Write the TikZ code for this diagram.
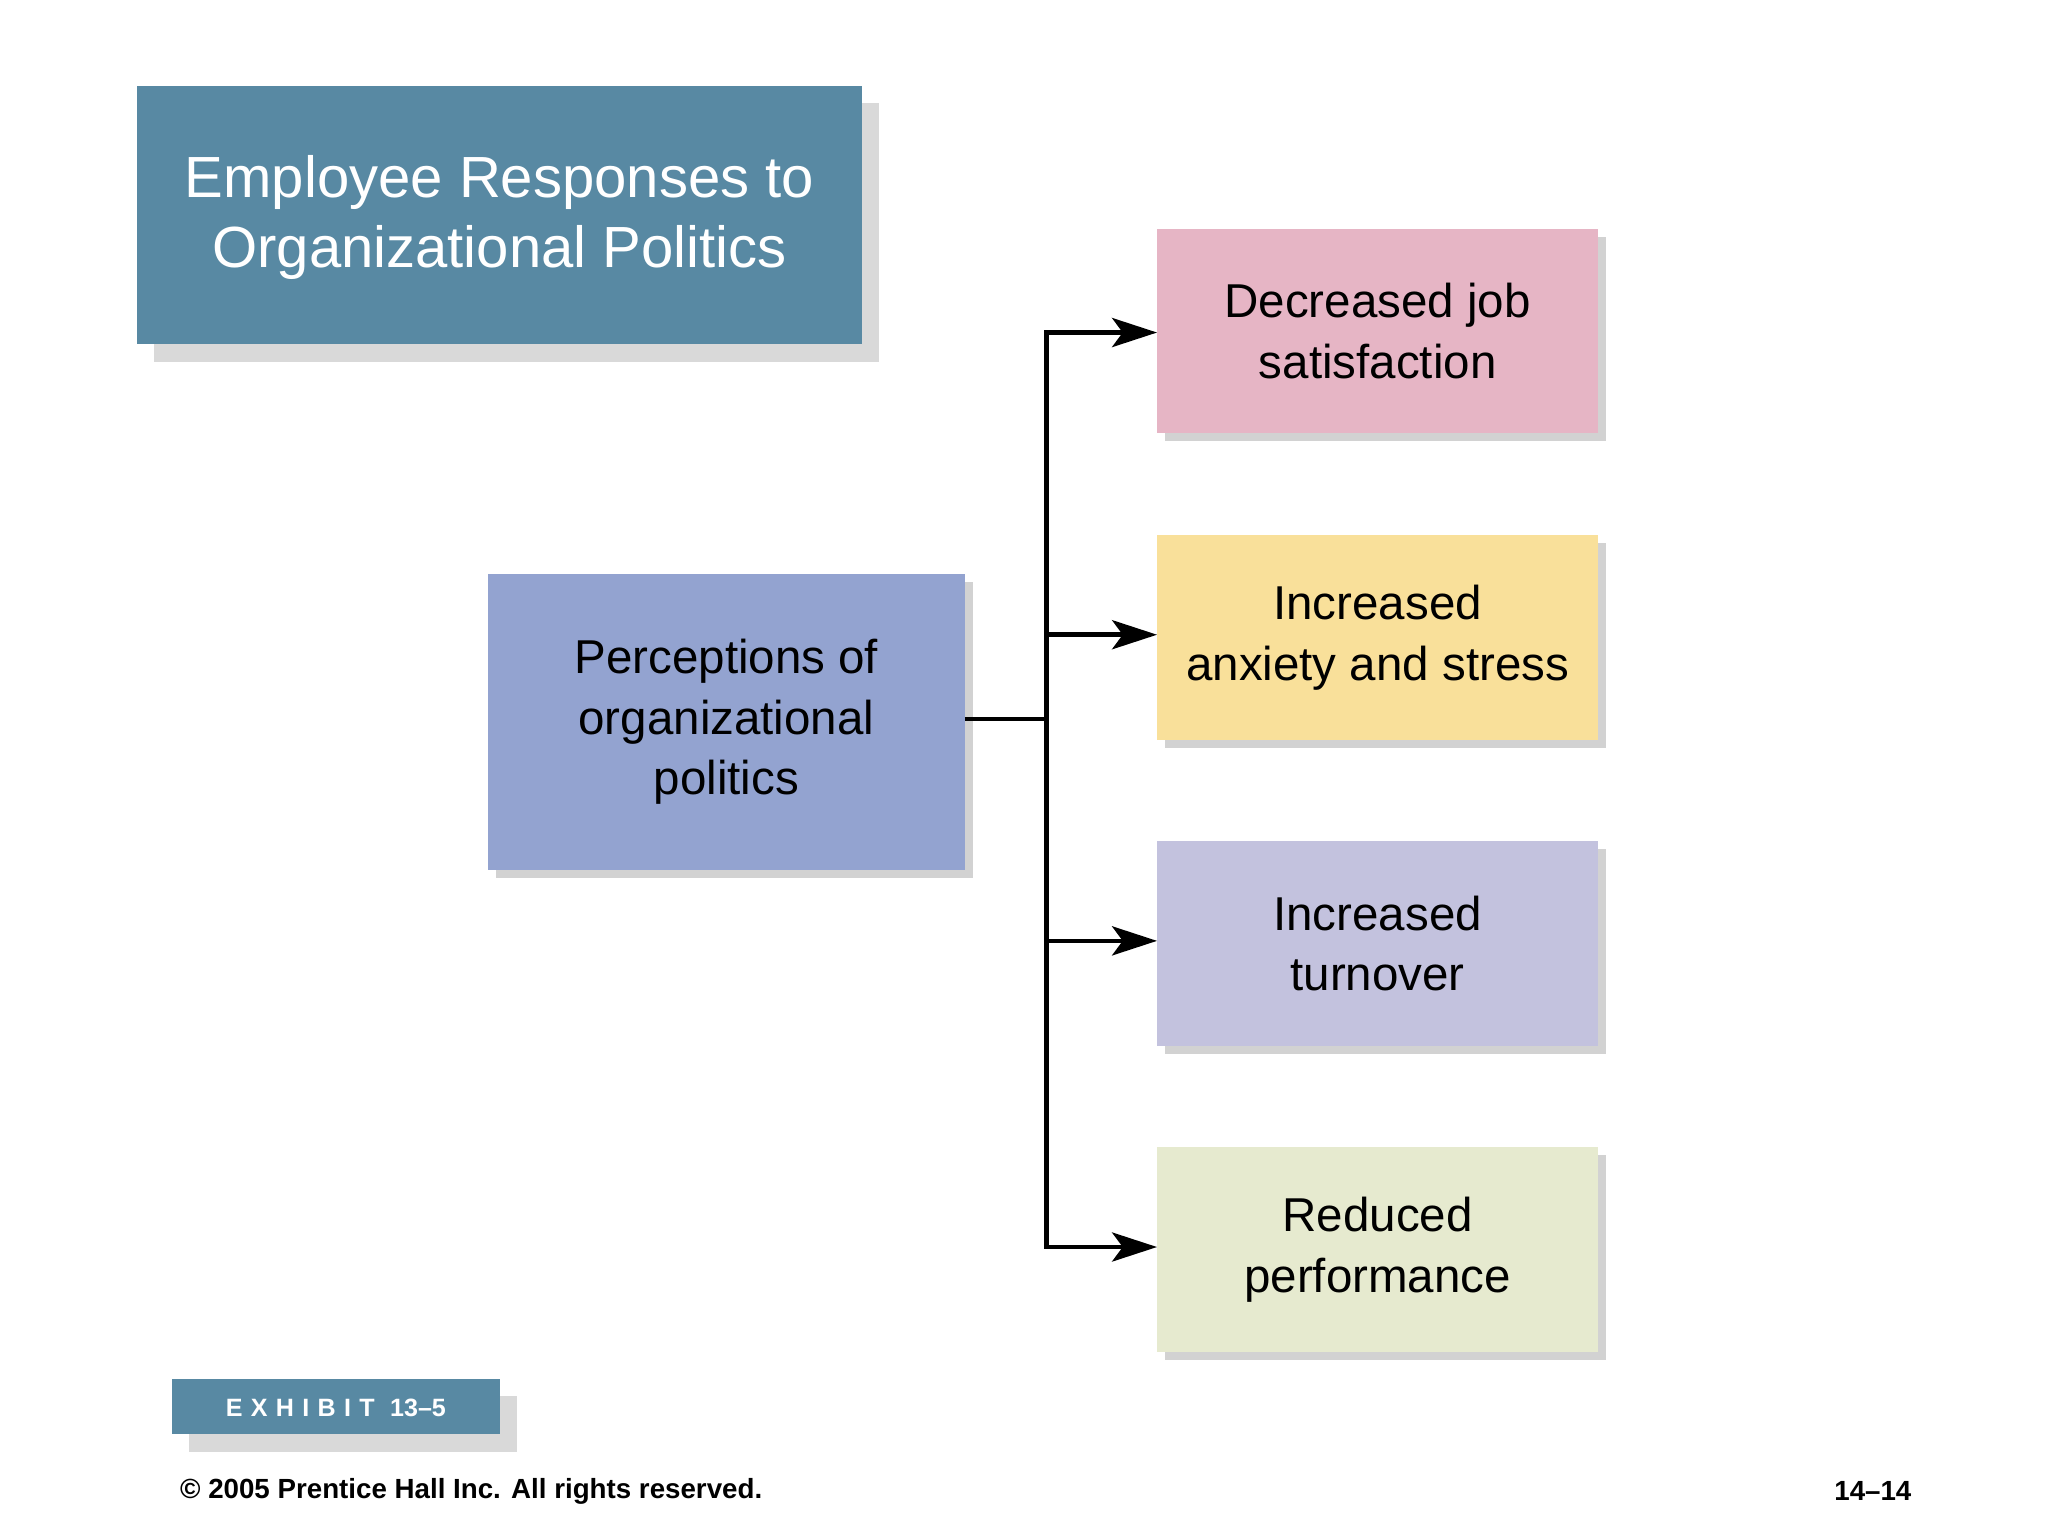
\documentclass[tikz,border=0pt]{standalone}
\usepackage{fontspec}
\setmainfont{Liberation Sans}
\usetikzlibrary{arrows.meta,shadows}
\definecolor{teal1}{HTML}{5889A3}
\definecolor{cen}{HTML}{93A3D0}
\definecolor{pinkb}{HTML}{E6B5C5}
\definecolor{yelb}{HTML}{F9E09A}
\definecolor{lavb}{HTML}{C3C2DE}
\definecolor{grnb}{HTML}{E6EACF}
\definecolor{shd}{HTML}{D9D9D9}
\tikzset{
  box/.style={draw=none,minimum width=334pt,minimum height=155pt,align=center,font=\fontsize{36}{46}\selectfont,
    drop shadow={shadow xshift=6pt,shadow yshift=-6pt,opacity=.35}},
  conn/.style={line width=3.5pt},
  arr/.style={conn,-{Stealth[length=34pt,width=22pt,inset=8pt]}}
}
\begin{document}
\begin{tikzpicture}[x=1pt,y=-1pt]
\useasboundingbox[fill=white] (0,0) rectangle (1552,1164);
% title
\fill[shd] (117,78) rectangle (666,274);
\fill[teal1] (104,65) rectangle (653,261);
\node[text=white,align=center,font=\fontsize{44}{53}\selectfont] (title) at (378.5,165) {Employee Responses to\\Organizational Politics};
% center
\node[box,fill=cen,minimum width=361pt,minimum height=224pt] (c) at (550.5,547) {Perceptions of\\organizational\\politics};
\node[box,fill=pinkb] (b1) at (1044,251) {Decreased job\\satisfaction};
\node[box,fill=yelb] (b2) at (1044,483) {Increased\\anxiety and stress};
\node[box,fill=lavb] (b3) at (1044,715) {Increased\\turnover};
\node[box,fill=grnb] (b4) at (1044,947) {Reduced\\performance};
\coordinate (j) at (793,545);
\coordinate (t) at (793,252);
\coordinate (bt) at (793,945);
\draw[conn] (c.east |- j) -- (j);
\draw[conn,line cap=rect] (t) -- (bt);
\draw[arr] (t) -- (b1.west |- t);
\draw[arr] (793,481) -- (b2.west |- 0,481);
\draw[arr] (793,713) -- (b3.west |- 0,713);
\draw[arr] (bt) -- (b4.west |- bt);
% exhibit
\fill[shd] (143,1058) rectangle (392,1100);
\fill[teal1] (130,1045) rectangle (379,1087);
\node[text=white,font=\fontsize{19}{22}\selectfont\bfseries] (ex) at (254.5,1067) {E\,\,X\,\,H\,\,I\,\,B\,\,I\,\,T\,\, 13–5};
\node[anchor=west,font=\fontsize{21}{25}\selectfont\bfseries] (cp) at (133,1130) {© 2005 Prentice Hall Inc. All rights reserved.};
\node[anchor=east,font=\fontsize{21}{25}\selectfont\bfseries] (pg) at (1452,1130) {14–14};
\end{tikzpicture}
\end{document}
